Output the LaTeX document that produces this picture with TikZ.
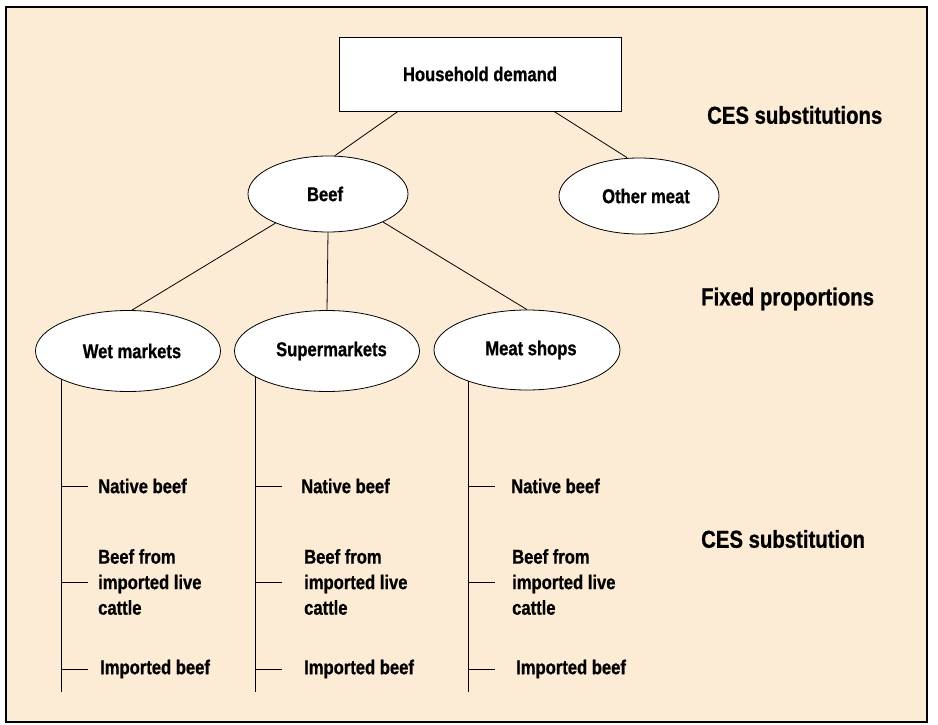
\documentclass[tikz,border=0pt]{standalone}
\usepackage{fontspec}
\setmainfont{Liberation Sans}[FakeStretch=0.83,BoldFeatures={FakeBold=0.8}]
\usetikzlibrary{shapes.geometric}
\definecolor{panel}{HTML}{FCEBD5}
\begin{document}
\begin{tikzpicture}[x=1pt,y=-1pt,
      box/.style={draw,fill=white,line width=0.8pt,inner sep=0pt,
        font=\bfseries\fontsize{20}{24}\selectfont},
      oval/.style={box,ellipse},
      item/.style={anchor=west,inner sep=0pt,align=left,
        font=\bfseries\fontsize{20}{25.5}\selectfont},
      level/.style={anchor=west,inner sep=0pt,
        font=\bfseries\fontsize{24.5}{29}\selectfont},
      link/.style={line width=0.8pt}]
      \useasboundingbox (0,0) rectangle (938,725);
      \draw[line width=1.6pt,fill=panel] (6,7) rectangle (927,722);
      \node[box,minimum width=282,minimum height=74] (household) at (480,74) {Household demand};
      \node[oval,minimum width=160,minimum height=76] (beef) at (328,194) {Beef\hspace*{6pt}};
      \node[oval,minimum width=160,minimum height=76] (other) at (639,196) {\hspace*{14pt}Other meat};
      \node[oval,minimum width=185,minimum height=81] (wet) at (128,351) {\hspace*{8pt}Wet markets};
      \node[oval,minimum width=185,minimum height=81] (sup) at (327,351) {\hspace*{9pt}Supermarkets};
      \node[oval,minimum width=186,minimum height=80] (shop) at (527,350) {\hspace*{8pt}Meat shops};
      \draw[link] ([xshift=-82pt]household.south) -- ([xshift=7pt]beef.north);
      \draw[link] ([xshift=74pt]household.south) -- ([xshift=-12pt]other.north);
      \draw[link] (beef.209) -- ([xshift=4pt]wet.north);
      \draw[link] (beef.south) -- (sup.north);
      \draw[link] (beef.333) -- (shop.north);
      \foreach \c/\a/\na/\nb/\nc in {wet/203/98/98/100,sup/200/301/304/304,shop/208/511/512/516} {
        \coordinate (\c-end) at (\c.\a |- 0,692);
        \draw[link] (\c.\a) -- (\c-end);
        \node[item] (\c-native) at (\na,486) {Native beef};
        \node[item] (\c-live) at (\nb,582) {Beef from\\imported live\\cattle};
        \node[item] (\c-import) at (\nc,669) {Imported beef};
        \foreach \i in {native,live,import}
          \draw[link] (\c-end |- \c-\i.west) -- ++(27,0);
      }
      \node[level] (ces) at (707,115) {CES substitutions};
      \node[level] (fixed) at (701,299) {Fixed proportions};
      \node[level] (cesb) at (701,539) {CES substitution};
\end{tikzpicture}
\end{document}
